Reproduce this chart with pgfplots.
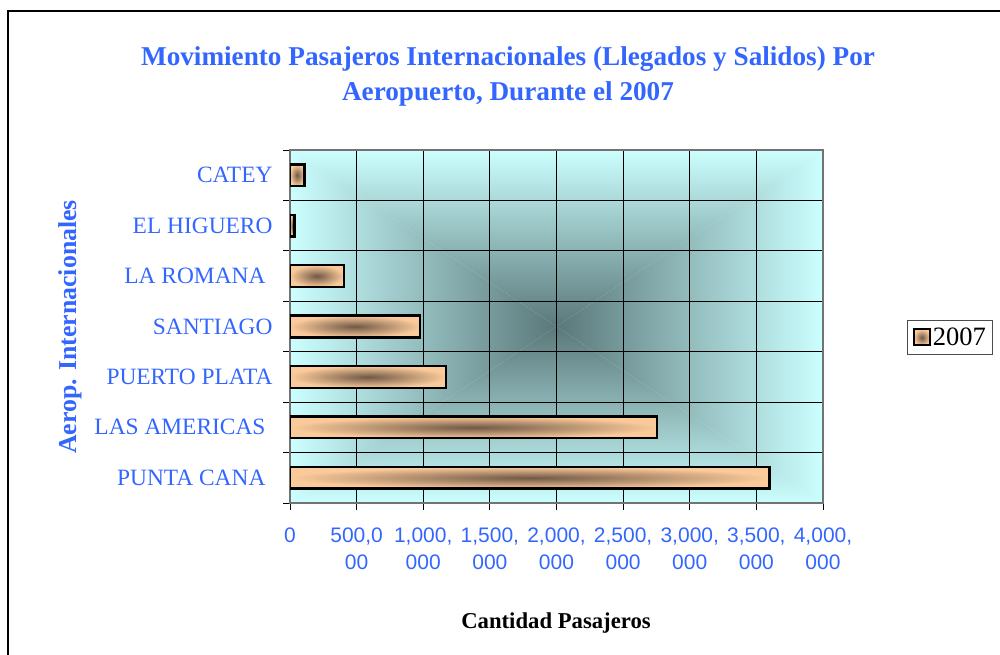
\documentclass[border=0pt]{standalone}
\usepackage{fontspec}
\setmainfont{Liberation Serif}
\setsansfont{Liberation Sans}
\usepackage{pgfplots}
\pgfplotsset{compat=1.18}
\definecolor{tblue}{RGB}{51,102,255}
\definecolor{bglight}{RGB}{204,255,255}
\definecolor{bgdark}{RGB}{90,120,122}
\definecolor{peach}{RGB}{250,202,154}
\definecolor{barbrown}{RGB}{112,88,70}
\begin{document}
\begin{tikzpicture}[x=1pt,y=1pt]
\path[use as bounding box] (0,0) rectangle (1000,655);
\draw[line width=1.5pt] (8,0) -- (8,644) -- (1000,644);
\def\bxa{290}\def\bxb{823}\def\bya{152}\def\byb{505}\def\bxc{556.5}\def\byc{328.5}
\begin{scope}
\clip (\bxa,\byb) -- (\bxb,\byb) -- (\bxc,\byc) -- cycle;
\shade[top color=bglight, bottom color=bgdark] (\bxa,\byc) rectangle (\bxb,\byb);
\end{scope}
\begin{scope}
\clip (\bxa,\bya) -- (\bxb,\bya) -- (\bxc,\byc) -- cycle;
\shade[top color=bgdark, bottom color=bglight] (\bxa,\bya) rectangle (\bxb,\byc);
\end{scope}
\begin{scope}
\clip (\bxa,\bya) -- (\bxa,\byb) -- (\bxc,\byc) -- cycle;
\shade[left color=bglight, right color=bgdark] (\bxa,\bya) rectangle (\bxc,\byb);
\end{scope}
\begin{scope}
\clip (\bxb,\bya) -- (\bxb,\byb) -- (\bxc,\byc) -- cycle;
\shade[left color=bgdark, right color=bglight] (\bxc,\bya) rectangle (\bxb,\byb);
\end{scope}
\begin{axis}[
  at={(290pt,152pt)}, anchor=south west, scale only axis,
  width=533pt, height=353pt,
  xmin=0, xmax=4000000, ymin=-0.5, ymax=6.5,
  xbar, bar width=0.43,
  scaled x ticks=false,
  xtick pos=bottom, ytick pos=left,
  xtick={0,500000,1000000,1500000,2000000,2500000,3000000,3500000,4000000},
  xticklabels={{0},{500,0\\00},{1,000,\\000},{1,500,\\000},{2,000,\\000},{2,500,\\000},{3,000,\\000},{3,500,\\000},{4,000,\\000}},
  xticklabel style={font=\sffamily\fontsize{21}{27}\selectfont, text=tblue, align=center, yshift=-14pt},
  ytick={-0.5,0.5,1.5,2.5,3.5,4.5,5.5,6.5},
  yticklabels={},
  extra y ticks={0,1,2,3,4,5,6},
  extra y tick labels={PUNTA CANA\kern7pt,LAS AMERICAS\kern7pt,PUERTO PLATA,SANTIAGO,LA ROMANA\kern7pt,EL HIGUERO,CATEY},
  extra y tick style={major tick length=0pt, grid=none, yticklabel style={font=\fontsize{23.4}{26}\selectfont, text=tblue, xshift=-14pt}},
  xmajorgrids=true, ymajorgrids=true,
  grid style={black, line width=0.9pt},
  tick align=outside, major tick length=7pt,
  tick style={black, line width=0.9pt},
  axis line style={black!55, line width=1.2pt},
  legend style={at={(1.239,0.469)}, anchor=center, draw=black!70, line width=0.8pt,
    font=\fontsize{26.5}{28}\selectfont, inner xsep=5pt, inner ysep=5pt},
  legend image code/.code={\draw[line width=2pt, draw=black, shade, inner color=barbrown, outer color=peach] (0pt,-8pt) rectangle (16pt,8pt);},
  barstyle/.style={xbar, bar shift=0pt, draw=black, line width=2.4pt, shade, inner color=barbrown, outer color=peach},
]
\addplot[barstyle] coordinates {(3597000,0)};
\addlegendentry{2007}
\addplot[barstyle, forget plot] coordinates {(2755000,1)};
\addplot[barstyle, forget plot] coordinates {(1172000,2)};
\addplot[barstyle, forget plot] coordinates {(977000,3)};
\addplot[barstyle, forget plot] coordinates {(404000,4)};
\addplot[barstyle, forget plot] coordinates {(35000,5)};
\addplot[barstyle, forget plot] coordinates {(108000,6)};
\end{axis}
\node[anchor=base, font=\bfseries\fontsize{27.2}{30}\selectfont, text=tblue] at (508,589) {Movimiento Pasajeros Internacionales (Llegados y Salidos) Por};
\node[anchor=base, font=\bfseries\fontsize{27.2}{30}\selectfont, text=tblue] at (508,554) {Aeropuerto, Durante el 2007};
\node[rotate=90, font=\bfseries\fontsize{25.8}{28}\selectfont, text=tblue] at (70,328) {Aerop. Internacionales};
\node[anchor=base, font=\bfseries\fontsize{22.7}{25}\selectfont] at (556,26) {Cantidad Pasajeros};
\end{tikzpicture}
\end{document}
